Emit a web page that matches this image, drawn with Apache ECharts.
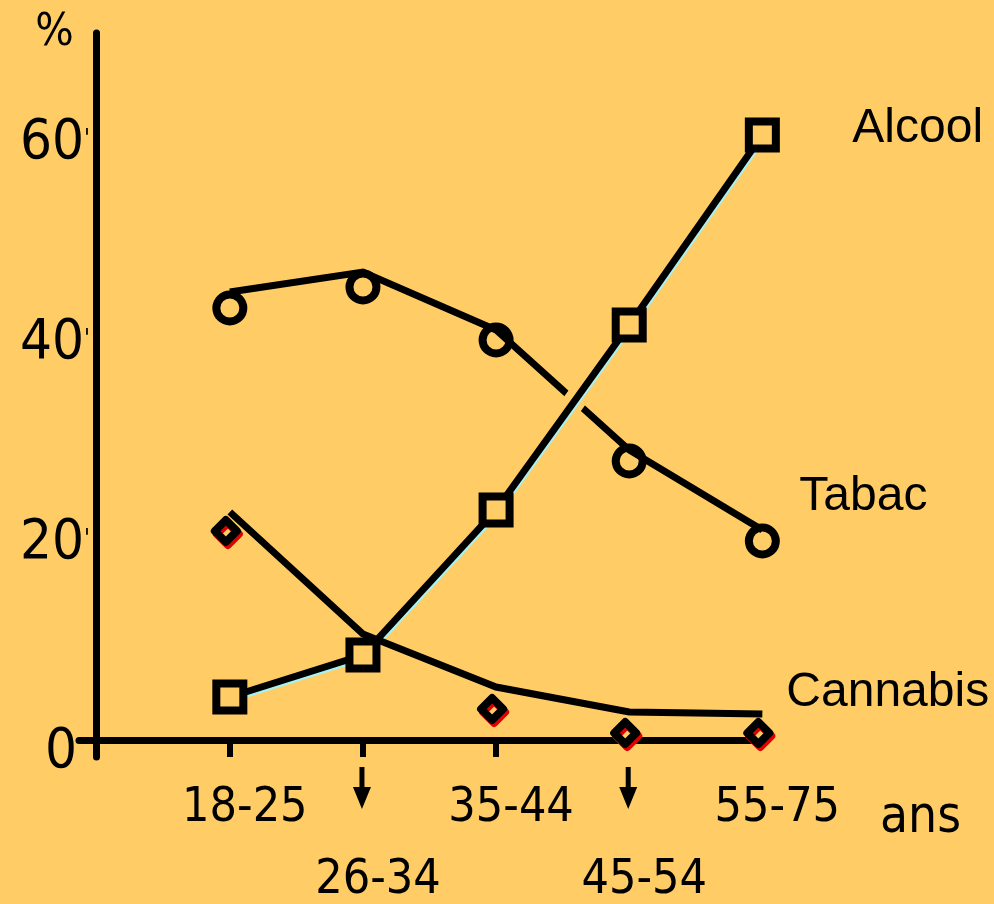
<!DOCTYPE html>
<html>
<head>
<meta charset="utf-8">
<script src="https://cdn.jsdelivr.net/npm/echarts@6/dist/echarts.min.js"></script>
<style>
  html, body { margin: 0; padding: 0; background: #ffcc66; }
  #chart-container { width: 994px; height: 904px; }
</style>
</head>
<body>
<div id="chart-container"></div>
<script>
// values
const categories = ["18-25", "26-34", "35-44", "45-54", "55-75"];
const alcool = [4.3, 8.5, 23.0, 41.5, 60.5];
const tabacPoints = [43.2, 45.3, 40.0, 27.9, 19.9];
const tabacLine = [44.8, 46.8, 41.0, 29.0, 21.0];
const cannabisPoints = [20.9, null, 3.1, 0.7, 0.7];
const cannabisLine = [22.8, 10.6, 5.3, 2.8, 2.6];
const arrowCategories = ["26-34", "45-54"];
const yTicks = [0, 20, 40, 60];
const yTickLabels = ["0", "20'", "40'", "60'"];

const BG = "#ffcc66";
const NARROW = "'Liberation Sans Narrow', 'DejaVu Sans Condensed', sans-serif";
const SANS = "'Liberation Sans', Arial, sans-serif";

const pairs = (arr) => arr.map((v, i) => [i + 1, v]);
const arrowData = arrowCategories.map((c) => [categories.indexOf(c) + 1, 0]);

const endLabel = (text, offset) => ({
  show: true,
  formatter: text,
  distance: 0,
  offset: offset,
  color: "#000",
  fontFamily: SANS,
  fontSize: 48,
  align: "left",
  verticalAlign: "middle",
});

let option = {
  backgroundColor: BG,
  animation: false,
  grid: {
    left: 79,
    right: 229,
    top: 33,
    bottom: 147,
    outerBoundsMode: "none",
    containLabel: false,
  },
  xAxis: {
    type: "value",
    min: -0.133,
    max: 5.02,
    name: "\n\nans",
    nameLocation: "end",
    nameGap: 115,
    nameTextStyle: {
      color: "#000",
      fontFamily: NARROW,
      fontSize: 51,
      lineHeight: 79,
      align: "left",
      verticalAlign: "middle",
    },
    axisLine: {
      onZero: true,
      lineStyle: { color: "#000", width: 7 },
    },
    axisTick: {
      customValues: [1, 2, 3],
      length: 17,
      lineStyle: { color: "#000", width: 6 },
    },
    splitLine: { show: false },
    axisLabel: {
      customValues: categories.map((c, i) => i + 1),
      margin: 5,
      color: "#000",
      formatter: (v) => {
        const i = Math.round(v) - 1;
        return i % 2 === 0 ? "{hi|" + categories[i] + "}" : "{lo|" + categories[i] + "}";
      },
      rich: {
        hi: { fontFamily: NARROW, fontSize: 48, lineHeight: 94, padding: [0, 0, 0, 30], color: "#000" },
        lo: { fontFamily: NARROW, fontSize: 48, lineHeight: 238, padding: [0, 0, 0, 30], color: "#000" },
      },
    },
  },
  yAxis: {
    type: "value",
    min: -1.7,
    max: 70.7,
    name: "%",
    nameLocation: "end",
    nameGap: 0,
    nameTextStyle: {
      color: "#000",
      fontFamily: NARROW,
      fontSize: 45,
      align: "right",
      verticalAlign: "middle",
      padding: [6, 23, 0, 0],
    },
    axisLine: {
      show: true,
      onZero: true,
      lineStyle: { color: "#000", width: 7 },
    },
    axisTick: { show: false },
    splitLine: { show: false },
    axisLabel: {
      customValues: yTicks,
      margin: -11,
      formatter: (v) => {
        const label = yTickLabels[yTicks.indexOf(v)];
        if (v === 0) return "{z|" + label + "}";
        // the little tick mark after the number is printed smaller
        return "{n|" + label.replace("'", "") + "}{q|'}";
      },
      rich: {
        n: { fontFamily: NARROW, fontSize: 56, color: "#000", padding: [6, 0, 0, 0] },
        q: { fontFamily: NARROW, fontSize: 24, color: "#000" },
        z: { fontFamily: NARROW, fontSize: 56, color: "#000", padding: [24, 13, 0, 0] },
      },
    },
  },
  series: [
    {
      name: "Tabac",
      type: "line",
      data: pairs(tabacLine),
      symbol: "none",
      lineStyle: { color: "#000", width: 7, join: "miter" },
      endLabel: endLabel("Tabac", [37, -33]),
    },
    {
      // background-coloured band so Tabac breaks where Alcool crosses it
      name: "gap",
      type: "line",
      data: pairs(alcool),
      symbol: "none",
      silent: true,
      lineStyle: { color: BG, width: 22 },
    },
    {
      name: "Alcool",
      type: "line",
      data: pairs(alcool),
      symbol: "rect",
      symbolSize: 27,
      itemStyle: { color: BG, borderColor: "#000", borderWidth: 8 },
      lineStyle: {
        color: "#000",
        width: 7,
        join: "miter",
        shadowColor: "#a8f2f2",
        shadowBlur: 0,
        shadowOffsetX: 1,
        shadowOffsetY: 2,
      },
      endLabel: endLabel("Alcool", [90, -6]),
    },
    {
      name: "Cannabis",
      type: "line",
      data: pairs(cannabisLine),
      symbol: "none",
      lineStyle: { color: "#000", width: 7, join: "miter" },
      endLabel: endLabel("Cannabis", [24, -21]),
    },
    {
      name: "Tabac points",
      type: "scatter",
      data: pairs(tabacPoints),
      symbol: "circle",
      symbolSize: 27,
      itemStyle: { color: BG, borderColor: "#000", borderWidth: 8, opacity: 1 },
    },
    {
      name: "Cannabis points",
      type: "scatter",
      data: pairs(cannabisPoints),
      symbol: "diamond",
      symbolSize: [22, 22],
      symbolOffset: [-4, 0],
      itemStyle: {
        color: BG,
        borderColor: "#000",
        borderWidth: 8,
        borderJoin: "round",
        opacity: 1,
        shadowColor: "#e00000",
        shadowBlur: 0,
        shadowOffsetX: 2,
        shadowOffsetY: 3,
      },
    },
    {
      name: "arrows",
      type: "scatter",
      data: arrowData,
      clip: false,
      symbol: "path://M6.5,0 L11.5,0 L11.5,20 L18,20 L9,42 L0,20 L6.5,20 Z",
      symbolSize: [18, 42],
      symbolOffset: [-1, 48],
      itemStyle: { color: "#000", opacity: 1 },
    },
  ],
};

const paintChart = () => {
  let dom = document.getElementById("chart-container");
  let myChart = echarts.init(dom, null, { renderer: "canvas" });
  if (option && typeof option === "object") {
    myChart.setOption(option);
  }
  window.addEventListener("resize", () => myChart.resize());
};
paintChart();
</script>
</body>
</html>
